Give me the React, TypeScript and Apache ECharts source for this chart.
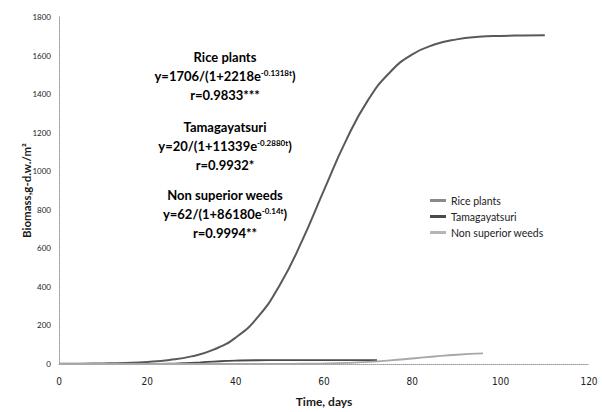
import React, { useEffect, useRef } from "react";
import * as echarts from "echarts";

const xTicks = [0, 20, 40, 60, 80, 100, 120];
const yTicks = [0, 200, 400, 600, 800, 1000, 1200, 1400, 1600, 1800];

const riceDays = [0, 5, 10, 15, 20, 25, 30, 35, 40, 45, 50, 55, 60, 65, 70, 75, 80, 85, 90, 95, 100, 105, 110];
const riceBiomass = [0.8, 1.5, 2.9, 5.6, 10.8, 20.8, 39.6, 74.5, 137, 243, 410, 637, 902, 1160, 1370, 1515, 1606, 1657, 1684, 1697, 1702, 1704, 1705];

const tamaDays = [0, 5, 10, 15, 20, 25, 28, 30, 32, 35, 38, 40, 45, 50, 55, 60, 65, 72];
const tamaBiomass = [0, 0, 0, 0.1, 0.6, 2, 4, 6, 8.5, 12.5, 16, 17.7, 19.5, 19.9, 20, 20, 20, 20];

const weedDays = [0, 10, 20, 30, 40, 50, 55, 60, 65, 70, 75, 80, 85, 90, 96];
const weedBiomass = [0, 0, 0.02, 0.05, 0.2, 0.8, 1.6, 3, 5.8, 10.8, 18.6, 28.6, 39, 48, 55];

const seriesNames = ["Rice plants", "Tamagayatsuri", "Non superior weeds"];

const annotations = [
  ["{b|Rice plants}", "{b|y=1706/(1+2218e}{s|-0.1318t}{b|)}", "{b|r=0.9833***}"],
  ["{b|Tamagayatsuri}", "{b|y=20/(1+11339e}{s|-0.2880t}{b|)}", "{b|r=0.9932*}"],
  ["{b|Non superior weeds}", "{b|y=62/(1+86180e}{s|-0.14t}{b|)}", "{b|r=0.9994**}"],
];

const pairs = (xs: number[], ys: number[]) => xs.map((x, i) => [x, ys[i]]);

export default function App() {
  const ref = useRef<HTMLDivElement>(null);
  useEffect(() => {
    if (!ref.current) return;
    const chart = echarts.init(ref.current, null, { renderer: "svg" });
    const textFont = "Lato, 'Open Sans', sans-serif";
    const rich = {
      b: { fontFamily: textFont, fontWeight: "bold", fontSize: 13, color: "#1a1a1a" },
      s: { fontFamily: textFont, fontWeight: "bold", fontSize: 8, color: "#1a1a1a", verticalAlign: "top", padding: [0, 0, 6, 0] },
    };
    const blockTops = [57, 127, 195];
    const graphics: any[] = [];
    annotations.forEach((block, bi) => {
      block.forEach((line, li) => {
        graphics.push({
          type: "text",
          x: 225,
          y: blockTops[bi] + li * 19,
          style: { text: line, rich, align: "center", verticalAlign: "middle" },
        });
      });
    });
    chart.setOption({
      animation: false,
      backgroundColor: "#ffffff",
      grid: { left: 59, right: 13, top: 17, bottom: 48 },
      legend: {
        orient: "vertical",
        left: 425,
        top: 190,
        itemWidth: 16,
        itemHeight: 3,
        itemGap: 5,
        icon: "rect",
        textStyle: { fontFamily: textFont, fontSize: 10.5, color: "#222", lineHeight: 11 },
        data: seriesNames,
      },
      xAxis: {
        type: "value",
        min: 0,
        max: 120,
        interval: 20,
        name: "Time, days",
        nameLocation: "middle",
        nameGap: 31,
        nameTextStyle: { fontFamily: textFont, fontWeight: "bold", fontSize: 12, color: "#1a1a1a" },
        axisLine: { show: true, lineStyle: { color: "#999", type: "dotted", width: 1 } },
        axisTick: { show: false },
        splitLine: { show: false },
        axisLabel: {
          margin: 12,
          fontFamily: "'Liberation Sans Narrow', 'DejaVu Sans Condensed', sans-serif",
          fontSize: 10,
          color: "#222",
          customValues: xTicks,
        },
      },
      yAxis: {
        type: "value",
        min: 0,
        max: 1800,
        interval: 200,
        name: "Biomass,g-d.w./m\u00b2",
        nameLocation: "middle",
        nameGap: 27,
        nameMoveOverlap: false,
        nameTextStyle: { fontFamily: textFont, fontWeight: "bold", fontSize: 11.5, color: "#1a1a1a" },
        axisLine: { show: true, lineStyle: { color: "#999", type: "dotted", width: 1 } },
        axisTick: { show: false },
        splitLine: { show: false },
        axisLabel: {
          margin: 8,
          fontFamily: textFont,
          fontSize: 8,
          color: "#222",
          customValues: yTicks,
          formatter: (v: number) => String(v),
        },
      },
      series: [
        {
          name: seriesNames[0],
          type: "line",
          smooth: true,
          showSymbol: false,
          data: pairs(riceDays, riceBiomass),
          lineStyle: { color: "#595959", width: 2 },
          itemStyle: { color: "#8a8a8a" },
        },
        {
          name: seriesNames[1],
          type: "line",
          smooth: true,
          showSymbol: false,
          data: pairs(tamaDays, tamaBiomass),
          lineStyle: { color: "#4a4a4a", width: 1.8 },
          itemStyle: { color: "#4a4a4a" },
        },
        {
          name: seriesNames[2],
          type: "line",
          smooth: true,
          showSymbol: false,
          data: pairs(weedDays, weedBiomass),
          lineStyle: { color: "#a8a8a8", width: 1.8 },
          itemStyle: { color: "#b5b5b5" },
        },
      ],
      graphic: graphics,
    });
    return () => chart.dispose();
  }, []);
  return <div ref={ref} style={{ position: "fixed", left: 0, top: 0, width: 602, height: 412 }} />;
}
